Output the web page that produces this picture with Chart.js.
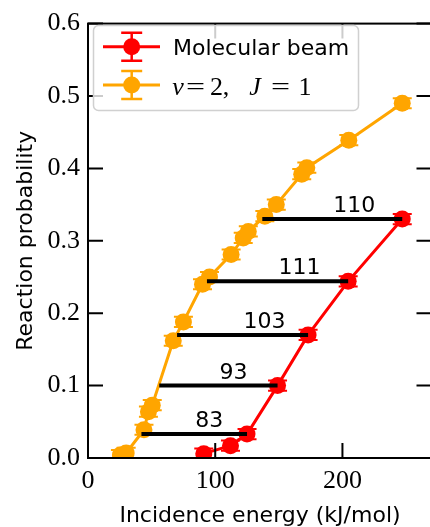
<!DOCTYPE html>
<html>
<head>
<meta charset="utf-8">
<script src="https://cdn.jsdelivr.net/npm/chart.js@4.4.1/dist/chart.umd.min.js"></script>
<style>
  html, body { margin: 0; padding: 0; background: #fff; overflow: hidden; }
  #wrap { position: relative; width: 440px; height: 527px; }
</style>
</head>
<body>
<div id="wrap"><canvas id="c"></canvas></div>
<script>
// Molecular beam measurements (incidence energy in kJ/mol, reaction probability)
const beamEnergy = [91, 112, 125, 149, 173, 204.5, 247];
const beamProb   = [0.006, 0.017, 0.033, 0.100, 0.170, 0.244, 0.330];
const beamErr    = [0.007, 0.007, 0.007, 0.007, 0.007, 0.007, 0.007];

// State-resolved results for nu = 2, J = 1
const stateEnergy = [25.5, 30, 44, 47.5, 50.5, 67, 75, 90, 95.5, 112.5, 122, 126, 139, 148, 168, 172, 205, 247];
const stateProb   = [0.004, 0.007, 0.039, 0.064, 0.073, 0.162, 0.188, 0.240, 0.250, 0.281, 0.304, 0.313, 0.334, 0.350, 0.392, 0.401, 0.439, 0.490];
const stateErr    = [0.007, 0.007, 0.007, 0.007, 0.007, 0.007, 0.007, 0.007, 0.007, 0.007, 0.007, 0.007, 0.007, 0.007, 0.007, 0.007, 0.007, 0.007];

// Energy shifts between the two curves, attached to beam points
const shiftIndex = [2, 3, 4, 5, 6];
const shiftValue = [83, 93, 103, 111, 110];

// Axis ticks
const xTickValues = [0, 100, 200];
const yTickValues = [0.0, 0.1, 0.2, 0.3, 0.4, 0.5, 0.6];

const RED = '#ff0000';
const ORANGE = '#ffa500';
const SANS = '"DejaVu Sans", sans-serif';
const SERIF = '"Liberation Serif", serif';
const MARKER_R = 8.5;

function drawErrorMarker(ctx, x, yTop, yBot, half) {
  ctx.beginPath();
  ctx.moveTo(x, yTop); ctx.lineTo(x, yBot);
  ctx.moveTo(x - half, yTop); ctx.lineTo(x + half, yTop);
  ctx.moveTo(x - half, yBot); ctx.lineTo(x + half, yBot);
  ctx.stroke();
}

const decor = {
  id: 'decor',
  beforeDatasetsDraw(chart) {
    const { ctx, chartArea: a, scales: { x, y } } = chart;
    ctx.save();
    ctx.beginPath();
    ctx.rect(a.left, a.top, a.right - a.left, a.bottom - a.top);
    ctx.clip();
    ctx.lineWidth = 2;
    const sets = [[beamEnergy, beamProb, beamErr, RED], [stateEnergy, stateProb, stateErr, ORANGE]];
    for (const [E, P, D, col] of sets) {
      ctx.strokeStyle = col;
      E.forEach((e, i) => {
        drawErrorMarker(ctx, x.getPixelForValue(e), y.getPixelForValue(P[i] + D[i]), y.getPixelForValue(P[i] - D[i]), 9.5);
      });
    }
    ctx.restore();
  },
  afterDatasetsDraw(chart) {
    const { ctx, chartArea: a, scales: { x, y } } = chart;
    ctx.save();

    // energy-shift bars with their labels
    ctx.strokeStyle = '#000';
    ctx.fillStyle = '#000';
    ctx.lineWidth = 4;
    ctx.font = '22px ' + SANS;
    ctx.textAlign = 'left';
    ctx.textBaseline = 'alphabetic';
    shiftIndex.forEach((k, j) => {
      const end = beamEnergy[k];
      const start = end - shiftValue[j];
      const py = y.getPixelForValue(beamProb[k]);
      const x0 = x.getPixelForValue(start), x1 = x.getPixelForValue(end);
      ctx.beginPath(); ctx.moveTo(x0, py); ctx.lineTo(x1, py); ctx.stroke();
      ctx.fillText(String(shiftValue[j]), x.getPixelForValue((start + end) / 2) + 1, py - 7);
    });

    // frame and inward ticks
    ctx.lineWidth = 2;
    ctx.strokeRect(a.left, a.top, a.right - a.left, a.bottom - a.top);
    const T = 15;
    ctx.beginPath();
    xTickValues.forEach(v => {
      const px = x.getPixelForValue(v);
      ctx.moveTo(px, a.bottom); ctx.lineTo(px, a.bottom - T);
      ctx.moveTo(px, a.top); ctx.lineTo(px, a.top + T);
    });
    yTickValues.forEach(v => {
      const py = y.getPixelForValue(v);
      ctx.moveTo(a.left, py); ctx.lineTo(a.left + T, py);
      ctx.moveTo(a.right, py); ctx.lineTo(a.right - T, py);
    });
    ctx.stroke();

    // axis titles
    ctx.font = '22px ' + SANS;
    ctx.textAlign = 'center';
    ctx.fillText('Incidence energy (kJ/mol)', 260, 522);
    ctx.save();
    ctx.translate(32, (a.top + a.bottom) / 2);
    ctx.rotate(-Math.PI / 2);
    ctx.fillText('Reaction probability', 0, 0);
    ctx.restore();

    // legend
    const lx = 93.5, ly = 25.5, lw = 265, lh = 85;
    ctx.beginPath();
    ctx.roundRect(lx, ly, lw, lh, 5);
    ctx.fillStyle = 'rgba(255,255,255,0.8)';
    ctx.fill();
    ctx.strokeStyle = '#d0d0d0';
    ctx.lineWidth = 1.5;
    ctx.stroke();

    const entries = [[RED, 46.7], [ORANGE, 85]];
    entries.forEach(([col, cy]) => {
      ctx.strokeStyle = col; ctx.fillStyle = col;
      ctx.lineWidth = 3;
      ctx.beginPath(); ctx.moveTo(103, cy); ctx.lineTo(160, cy); ctx.stroke();
      ctx.lineWidth = 2.5;
      drawErrorMarker(ctx, 131.7, cy - 14, cy + 14, 10.5);
      ctx.beginPath(); ctx.arc(131.7, cy, MARKER_R, 0, Math.PI * 2); ctx.fill();
    });

    ctx.fillStyle = '#000';
    ctx.textAlign = 'left';
    ctx.font = '22px ' + SANS;
    ctx.fillText('Molecular beam', 173, 55);

    // math label, glyphs centred at their own positions
    ctx.textAlign = 'center';
    const pieces = [
      ['ν', 'italic', 178], ['=', '', 195.5], ['2', '', 216.5], [',', '', 226],
      ['J', 'italic', 255], ['=', '', 280.5], ['1', '', 305]
    ];
    pieces.forEach(([t, st, px]) => {
      ctx.font = (st ? st + ' ' : '') + '26px ' + SERIF;
      if (t === '=') {
        ctx.save();
        ctx.translate(px, 95);
        ctx.scale(1.3, 1);
        ctx.fillText(t, 0, 0);
        ctx.restore();
      } else {
        ctx.fillText(t, px, 95);
      }
    });

    ctx.restore();
  }
};

const toPoints = (E, P) => E.map((e, i) => ({ x: e, y: P[i] }));

new Chart(document.getElementById('c'), {
  type: 'line',
  data: {
    datasets: [
      {
        label: 'Molecular beam',
        data: toPoints(beamEnergy, beamProb),
        borderColor: RED, backgroundColor: RED,
        pointBackgroundColor: RED, pointBorderWidth: 0,
        pointRadius: MARKER_R, borderWidth: 3, tension: 0, clip: 0, order: 1
      },
      {
        label: 'ν = 2, J = 1',
        data: toPoints(stateEnergy, stateProb),
        borderColor: ORANGE, backgroundColor: ORANGE,
        pointBackgroundColor: ORANGE, pointBorderWidth: 0,
        pointRadius: MARKER_R, borderWidth: 3, tension: 0, clip: 0, order: 0
      }
    ]
  },
  options: {
    responsive: true,
    maintainAspectRatio: false,
    animation: false,
    devicePixelRatio: 1,
    layout: { padding: { top: 19, right: 6, left: 0, bottom: 0 } },
    plugins: { legend: { display: false }, tooltip: { enabled: false } },
    scales: {
      x: {
        type: 'linear', min: 0, max: 270,
        afterBuildTicks: s => { s.ticks = xTickValues.map(v => ({ value: v })); },
        afterFit: s => { s.height = 69; },
        grid: { display: false, drawTicks: false },
        border: { display: false },
        ticks: { padding: 8, color: '#000', font: { family: SERIF, size: 26 }, callback: v => String(v) }
      },
      y: {
        type: 'linear', min: 0, max: 0.6,
        afterBuildTicks: s => { s.ticks = yTickValues.map(v => ({ value: v })); },
        afterFit: s => { s.width = 88; },
        grid: { display: false, drawTicks: false },
        border: { display: false },
        ticks: { padding: 8, color: '#000', font: { family: SERIF, size: 26 }, callback: v => Number(v).toFixed(1) }
      }
    }
  },
  plugins: [decor]
});
</script>
</body>
</html>
